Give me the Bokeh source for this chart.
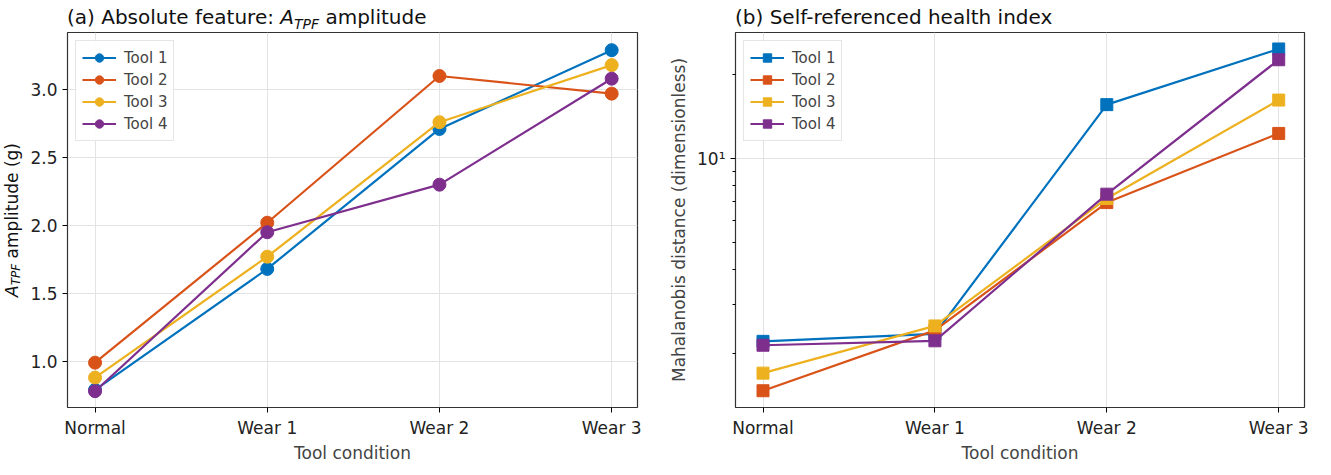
from bokeh.plotting import figure
from bokeh.layouts import row, column
from bokeh.models import Range1d, FixedTicker, Legend, LegendItem, Div, Spacer
from bokeh.embed import file_html
from bokeh.resources import INLINE

categories = ["Normal", "Wear 1", "Wear 2", "Wear 3"]
tools = ["Tool 1", "Tool 2", "Tool 3", "Tool 4"]
colors = ["#0072BD", "#D95319", "#EDB120", "#7E2F8E"]

atpf_tool1 = [0.79, 1.68, 2.71, 3.29]
atpf_tool2 = [0.99, 2.02, 3.10, 2.97]
atpf_tool3 = [0.88, 1.77, 2.76, 3.18]
atpf_tool4 = [0.78, 1.95, 2.30, 3.08]

md_tool1 = [2.21, 2.35, 15.6, 24.7]
md_tool2 = [1.47, 2.42, 6.95, 12.3]
md_tool3 = [1.70, 2.51, 7.19, 16.2]
md_tool4 = [2.14, 2.22, 7.45, 22.6]

FONT = "DejaVu Sans"
xs = list(range(len(categories)))
overrides = {i: c for i, c in enumerate(categories)}
FW, FH = 570, 375
TOP = 32


def style(p):
    p.outline_line_color = "#333333"
    p.outline_line_width = 1.2
    for ax in p.axis:
        ax.major_label_text_font = FONT
        ax.major_label_text_font_size = "17px"
        ax.axis_label_text_font = FONT
        ax.axis_label_text_font_size = "17px"
        ax.axis_label_text_font_style = "normal"
        ax.axis_line_color = None
        ax.major_tick_in = 0
        ax.major_tick_out = 5
        ax.minor_tick_in = 0
        ax.minor_tick_out = 3
        ax.major_label_text_color = "#222222"
    p.xaxis.ticker = FixedTicker(ticks=xs)
    p.xaxis.major_label_overrides = overrides
    p.xaxis.axis_label = "Tool condition"
    p.xaxis.axis_label_standoff = 2
    p.grid.grid_line_color = "#e3e3e3"
    p.grid.grid_line_width = 1


def title_div(html, left, width):
    return Div(text=html, width=width, height=TOP, margin=(0, 0, 0, 0),
               styles={"font-family": FONT, "font-size": "20px", "line-height": "24px",
                       "padding-top": "5px", "padding-left": f"{left}px", "color": "#111111",
                       "white-space": "nowrap"})


def style_legend(lg):
    lg.label_text_font = FONT
    lg.label_text_font_size = "15px"
    lg.border_line_color = "#cccccc"
    lg.background_fill_alpha = 0.9
    lg.spacing = 1
    lg.padding = 6
    lg.margin = 8
    lg.glyph_width = 34
    lg.label_height = 21
    lg.glyph_height = 21
    lg.label_standoff = 8


# Left plot
p1 = figure(frame_width=FW, frame_height=FH, output_backend="svg", toolbar_location=None,
            x_range=Range1d(-0.16, 3.15), y_range=Range1d(0.66, 3.42),
            min_border_left=45, min_border_right=10, min_border_top=0, min_border_bottom=10)
style(p1)
p1.yaxis.ticker = FixedTicker(ticks=[1.0, 1.5, 2.0, 2.5, 3.0])
p1.yaxis.major_label_overrides = {1.0: "1.0", 1.5: "1.5", 2.0: "2.0", 2.5: "2.5", 3.0: "3.0"}
items = []
for name, c, ys in zip(tools, colors, [atpf_tool1, atpf_tool2, atpf_tool3, atpf_tool4]):
    l = p1.line(xs, ys, line_color=c, line_width=2.2)
    m = p1.scatter(xs, ys, marker="circle", size=13, fill_color=c, line_color=c)
    items.append(LegendItem(label=name, renderers=[l, m]))
leg1 = Legend(items=items, location="top_left")
style_legend(leg1)
p1.add_layout(leg1)

t1 = title_div('(a) Absolute feature: <i>A</i><sub style="font-size:14px"><i>TPF</i></sub> amplitude', 45, 625)
ylab = Div(text='<div style="height:%dpx;display:flex;align-items:center;justify-content:center;">'
                '<span style="writing-mode:vertical-rl;transform:rotate(180deg);font-family:DejaVu Sans;'
                'font-size:17px;white-space:nowrap;color:#111111">'
                '<i>A</i><sub style="font-size:12px"><i>TPF</i></sub> amplitude (g)</span></div>' % FH,
           width=22, height=FH, margin=(0, 0, 0, 0))

# Right plot
p2 = figure(frame_width=FW - 1, frame_height=FH, output_backend="svg", toolbar_location=None,
            y_axis_type="log", x_range=Range1d(-0.16, 3.15), y_range=Range1d(1.28, 28.3),
            min_border_left=88, min_border_right=10, min_border_top=0, min_border_bottom=10)
style(p2)
p2.yaxis.ticker = FixedTicker(ticks=[10], minor_ticks=[2, 3, 4, 5, 6, 7, 8, 9, 20])
p2.yaxis.major_label_overrides = {10: "10¹"}
p2.yaxis.axis_label = "Mahalanobis distance (dimensionless)"
items = []
for name, c, ys in zip(tools, colors, [md_tool1, md_tool2, md_tool3, md_tool4]):
    l = p2.line(xs, ys, line_color=c, line_width=2.2)
    m = p2.scatter(xs, ys, marker="square", size=12, fill_color=c, line_color=c)
    items.append(LegendItem(label=name, renderers=[l, m]))
leg2 = Legend(items=items, location="top_left")
style_legend(leg2)
p2.add_layout(leg2)

t2 = title_div("(b) Self-referenced health index", 88, 667)

layout = row(column(Spacer(width=22, height=TOP, margin=(0, 0, 0, 0)), ylab, spacing=0),
             column(t1, p1, spacing=0), column(t2, p2, spacing=0), spacing=0)
open("out.html", "w").write(file_html(layout, INLINE))
